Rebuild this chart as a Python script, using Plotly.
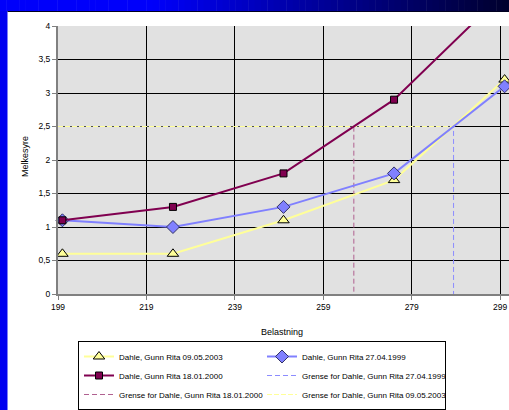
import plotly.graph_objects as go

# ---------------- data ----------------
belastning = [200, 225, 250, 275, 300]
dahle_2003 = [0.6, 0.6, 1.1, 1.7, 3.2]   # Dahle, Gunn Rita 09.05.2003
dahle_1999 = [1.1, 1.0, 1.3, 1.8, 3.1]   # Dahle, Gunn Rita 27.04.1999
dahle_2000 = [1.1, 1.3, 1.8, 2.9, 4.5]   # Dahle, Gunn Rita 18.01.2000
grense_niva = 2.5
x_start = 199
x_ticks = [199, 219, 239, 259, 279, 299]
y_ticks = [0, 0.5, 1, 1.5, 2, 2.5, 3, 3.5, 4]
y_ticklabels = ["0", "0,5", "1", "1,5", "2", "2,5", "3", "3,5", "4"]


def crossing(xs, ys, level):
    for i in range(len(xs) - 1):
        if ys[i] < level <= ys[i + 1]:
            return xs[i] + (xs[i + 1] - xs[i]) * (level - ys[i]) / (ys[i + 1] - ys[i])
    return xs[-1]


x_2000 = crossing(belastning, dahle_2000, grense_niva)
x_1999 = crossing(belastning, dahle_1999, grense_niva)
x_2003 = crossing(belastning, dahle_2003, grense_niva)

# ---------------- geometry ----------------
W, H = 509, 410
L, R, T, B = 58, 0, 26, 116
PW, PH = W - L - R, H - T - B


def px(x):
    return (x - L) / PW


def py(y):
    return (H - B - y) / PH


FONT = "Liberation Sans, Arial, sans-serif"
YEL = "#FFFF99"
BLU = "#8080FF"
PUR = "#800050"
PUR_G = "#B06090"
BLU_G = "#8C8CFF"

fig = go.Figure()

# threshold lines (drawn first, beneath data)
fig.add_trace(go.Scatter(
    x=[x_start, x_2000, x_2000], y=[grense_niva, grense_niva, 0], mode="lines",
    name="Grense for Dahle, Gunn Rita 18.01.2000", legendrank=5,
    line=dict(color=PUR_G, width=1, dash="5px,3px")))
fig.add_trace(go.Scatter(
    x=[x_start, x_1999, x_1999], y=[grense_niva, grense_niva, 0], mode="lines",
    name="Grense for Dahle, Gunn Rita 27.04.1999", legendrank=4,
    line=dict(color=BLU_G, width=1, dash="5px,3px")))
fig.add_trace(go.Scatter(
    x=[x_start, x_2003], y=[grense_niva, grense_niva], mode="lines",
    showlegend=False, hoverinfo="skip",
    line=dict(color="#505050", width=1, dash="0px,5px,2px,0px")))
fig.add_trace(go.Scatter(
    x=[x_start, x_2003], y=[grense_niva, grense_niva], mode="lines",
    name="Grense for Dahle, Gunn Rita 09.05.2003", legendrank=6,
    line=dict(color=YEL, width=1, dash="5px,2px")))

# data series
fig.add_trace(go.Scatter(
    x=belastning, y=dahle_2003, mode="lines+markers", cliponaxis=False,
    name="Dahle, Gunn Rita 09.05.2003", legendrank=1,
    line=dict(color=YEL, width=2),
    marker=dict(symbol="triangle-up", size=10, color=YEL, line=dict(color="#000000", width=1))))
fig.add_trace(go.Scatter(
    x=belastning, y=dahle_1999, mode="lines+markers", cliponaxis=False,
    name="Dahle, Gunn Rita 27.04.1999", legendrank=2,
    line=dict(color=BLU, width=2),
    marker=dict(symbol="diamond", size=10, color=BLU, line=dict(color="#333366", width=1))))
fig.add_trace(go.Scatter(
    x=belastning, y=dahle_2000, mode="lines+markers", cliponaxis=False,
    name="Dahle, Gunn Rita 18.01.2000", legendrank=3,
    line=dict(color=PUR, width=2),
    marker=dict(symbol="square", size=7, color=PUR, line=dict(color="#000000", width=1))))

# ---------------- background decoration ----------------
shapes = []
n = 80
for i in range(n):
    x0 = W * i / n
    x1 = W * (i + 1) / n + 0.5
    t = (i + 0.5) / n
    if t < 0.3:
        b = 250
    else:
        b = int(250 - (t - 0.3) / 0.7 * 205)
    shapes.append(dict(type="rect", xref="paper", yref="paper",
                       x0=px(x0), x1=px(x1), y0=py(11), y1=py(0),
                       fillcolor=f"rgb(0,0,{b})", line=dict(width=0), layer="below"))
shapes.append(dict(type="rect", xref="paper", yref="paper",
                   x0=px(0), x1=px(7.5), y0=py(H), y1=py(11),
                   fillcolor="#0000F0", line=dict(width=0), layer="below"))
shapes.append(dict(type="line", xref="paper", yref="paper",
                   x0=px(7.5), x1=px(W), y0=py(11.5), y1=py(11.5),
                   line=dict(color="#000020", width=1), layer="below"))

axis_common = dict(
    showgrid=True, gridcolor="#000000", gridwidth=1,
    showline=True, linecolor="#808080", linewidth=2,
    ticks="outside", ticklen=4, tickcolor="#808080", tickwidth=1,
    zeroline=False, tickfont=dict(family=FONT, size=8.5, color="#000000"),
    fixedrange=True,
)

fig.update_layout(
    width=W, height=H,
    margin=dict(l=L, r=R, t=T, b=B, pad=0),
    paper_bgcolor="#FFFFFF",
    plot_bgcolor="#E1E1E1",
    xaxis=dict(range=[x_start, 301.0], tickvals=x_ticks, ticktext=[str(v) for v in x_ticks],
               **axis_common),
    yaxis=dict(range=[0, 4], tickvals=y_ticks, ticktext=y_ticklabels, **axis_common),
    showlegend=True,
    legend=dict(
        orientation="h", x=px(78), y=py(341), xanchor="left", yanchor="top",
        entrywidth=138, entrywidthmode="pixels",
        font=dict(family=FONT, size=8, color="#000000"),
        bgcolor="#FFFFFF", bordercolor="#000000", borderwidth=1,
        traceorder="normal",
    ),
    shapes=shapes,
    annotations=[
        dict(text="Melkesyre", xref="paper", yref="paper", x=px(25), y=py(157),
             textangle=-90, showarrow=False, xanchor="center", yanchor="middle",
             font=dict(family=FONT, size=9, color="#000000")),
        dict(text="Belastning", xref="paper", yref="paper", x=px(282), y=py(332),
             showarrow=False, xanchor="center", yanchor="middle",
             font=dict(family=FONT, size=9, color="#000000")),
    ],
)

fig.write_html("out.html")
